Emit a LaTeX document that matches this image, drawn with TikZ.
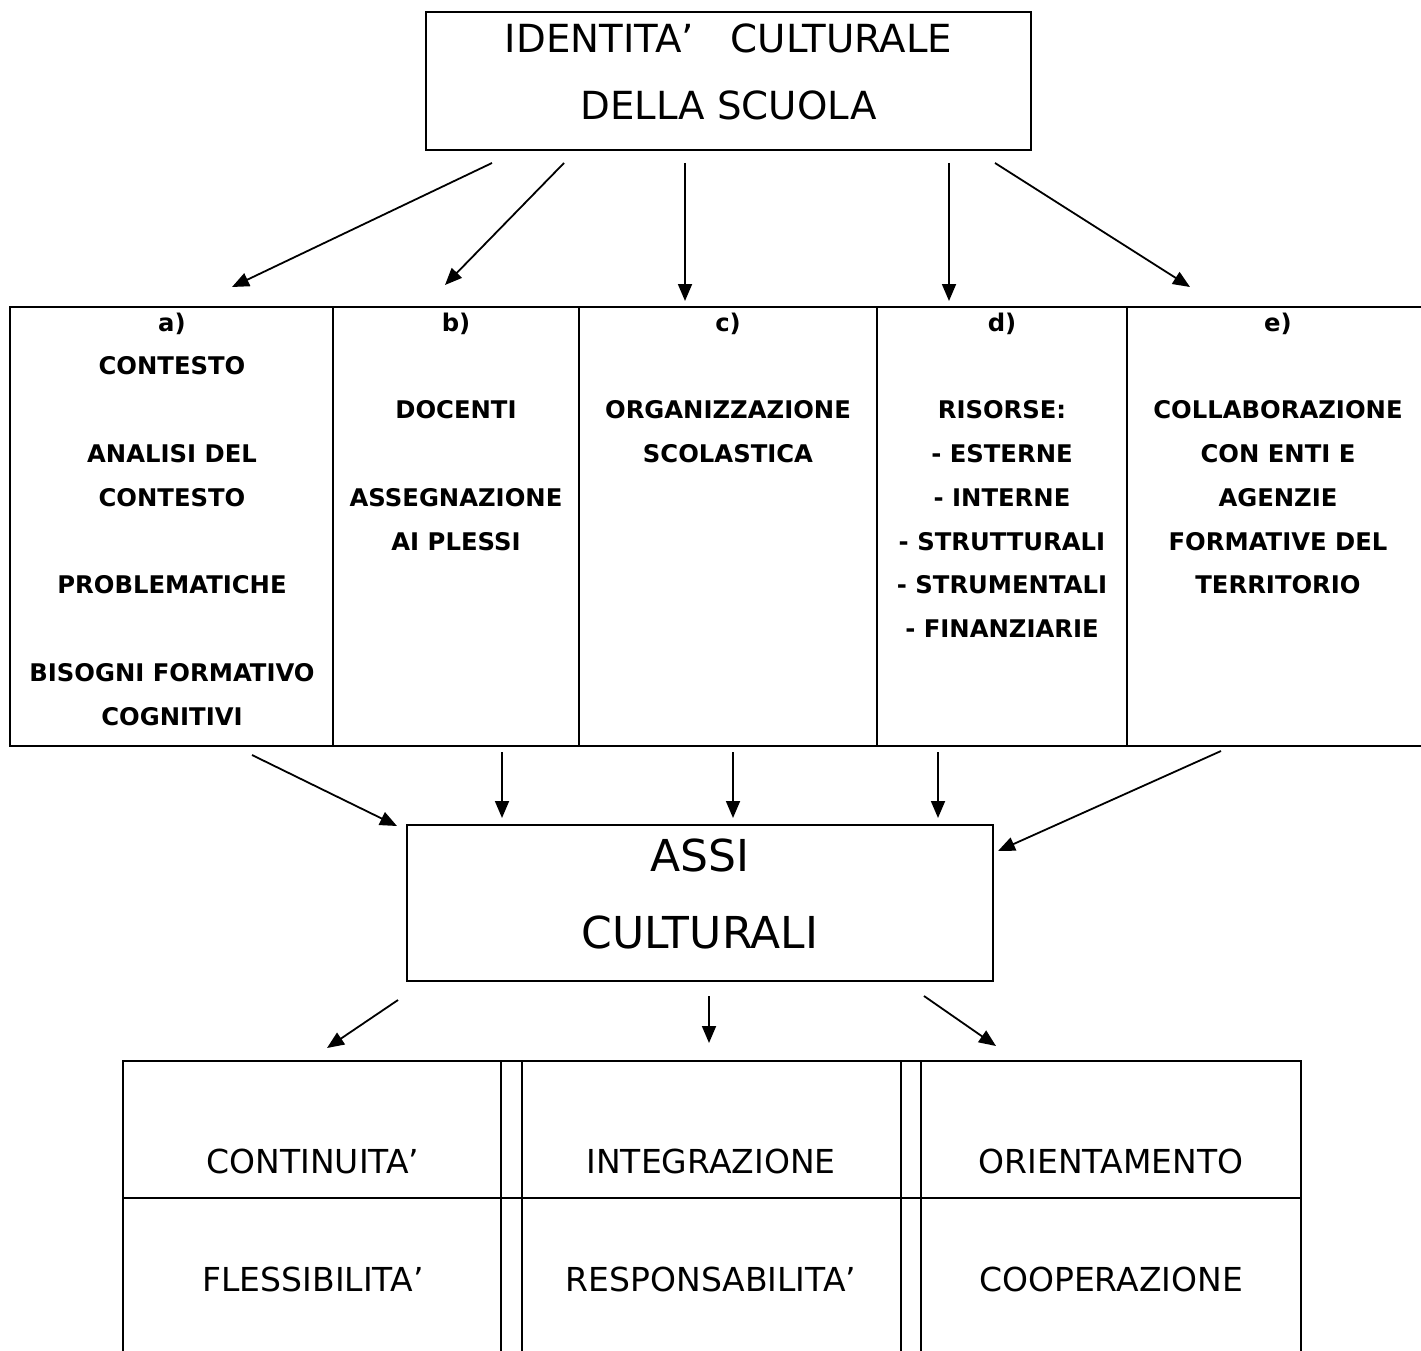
\documentclass[tikz,border=0pt]{standalone}
\usepackage{fontspec}
\setmainfont{DejaVu Sans}
\usetikzlibrary{arrows.meta}
\begin{document}
\begin{tikzpicture}[x=1pt,y=-1pt,
  box/.style={draw,line width=2.2pt,inner sep=0pt},
  cell/.style={draw,line width=2.2pt,inner sep=0pt},
  arr/.style={line width=1.8pt,-{Triangle[length=17pt,width=14pt]}},
  bigtxt/.style={inner sep=0pt,align=center,font=\fontsize{38.7}{67}\selectfont},
  assitxt/.style={inner sep=0pt,align=center,font=\fontsize{44}{77}\selectfont},
  coltxt/.style={inner sep=0pt,anchor=north,align=center,font=\fontsize{24.3}{43.8}\selectfont\bfseries},
  lowtxt/.style={inner sep=0pt,anchor=base,font=\fontsize{33}{40}\selectfont}]
\useasboundingbox[fill=white] (0,0) rectangle (1421,1351);
% top box
\node[box,minimum width=605pt,minimum height=138pt] (top) at (728.5,81) {};
\node[bigtxt,anchor=north] (toptxt) at (728.5,24) {IDENTITA’\ \ \ CULTURALE\\DELLA SCUOLA};
% middle table
\node[cell,minimum width=323pt,minimum height=439pt] (ca) at (171.5,526.5) {};
\node[cell,minimum width=246pt,minimum height=439pt] (cb) at (456,526.5) {};
\node[cell,minimum width=298pt,minimum height=439pt] (cc) at (728,526.5) {};
\node[cell,minimum width=250pt,minimum height=439pt] (cd) at (1002,526.5) {};
\node[cell,minimum width=313pt,minimum height=439pt] (ce) at (1283.5,526.5) {};
\node[coltxt] (ta) at (172,312.5) {a)\\CONTESTO\\[43.8pt]ANALISI DEL\\CONTESTO\\[43.8pt]PROBLEMATICHE\\[43.8pt]BISOGNI FORMATIVO\\COGNITIVI};
\node[coltxt] (tb) at (456,312.5) {b)\\[43.8pt]DOCENTI\\[43.8pt]ASSEGNAZIONE\\AI PLESSI};
\node[coltxt] (tc) at (728,312.5) {c)\\[43.8pt]ORGANIZZAZIONE\\SCOLASTICA};
\node[coltxt] (td) at (1002,312.5) {d)\\[43.8pt]RISORSE:\\- ESTERNE\\- INTERNE\\- STRUTTURALI\\- STRUMENTALI\\- FINANZIARIE};
\node[coltxt] (te) at (1278,312.5) {e)\\[43.8pt]COLLABORAZIONE\\CON ENTI E\\AGENZIE\\FORMATIVE DEL\\TERRITORIO};
% assi box
\node[box,minimum width=586pt,minimum height=156pt] (assi) at (700,903) {};
\node[assitxt,anchor=north] (assitxt) at (700,839) {ASSI\\CULTURALI};
% bottom table
\node[cell,minimum width=378pt,minimum height=137pt] (r1c1) at (312,1129.5) {};
\node[cell,minimum width=21pt,minimum height=137pt] (r1g1) at (511.5,1129.5) {};
\node[cell,minimum width=379pt,minimum height=137pt] (r1c2) at (711.5,1129.5) {};
\node[cell,minimum width=20pt,minimum height=137pt] (r1g2) at (911,1129.5) {};
\node[cell,minimum width=380pt,minimum height=137pt] (r1c3) at (1111,1129.5) {};
\node[cell,minimum width=378pt,minimum height=170pt] (r2c1) at (312,1283) {};
\node[cell,minimum width=21pt,minimum height=170pt] (r2g1) at (511.5,1283) {};
\node[cell,minimum width=379pt,minimum height=170pt] (r2c2) at (711.5,1283) {};
\node[cell,minimum width=20pt,minimum height=170pt] (r2g2) at (911,1283) {};
\node[cell,minimum width=380pt,minimum height=170pt] (r2c3) at (1111,1283) {};
\node[lowtxt] (l11) at (313,1173) {CONTINUITA’};
\node[lowtxt] (l12) at (711,1173) {INTEGRAZIONE};
\node[lowtxt] (l13) at (1111,1173) {ORIENTAMENTO};
\node[lowtxt] (l21) at (313,1291) {FLESSIBILITA’};
\node[lowtxt] (l22) at (711,1291) {RESPONSABILITA’};
\node[lowtxt] (l23) at (1111,1291) {COOPERAZIONE};
% arrow end points
\coordinate (s1) at (492,163); \coordinate (e1) at (232,287);
\coordinate (s2) at (564,163); \coordinate (e2) at (445,285);
\coordinate (s3) at (685,163); \coordinate (e3) at (685,301);
\coordinate (s4) at (949,163); \coordinate (e4) at (949,301);
\coordinate (s5) at (995,163); \coordinate (e5) at (1190,287);
\coordinate (m1) at (252,755); \coordinate (n1) at (397,826);
\coordinate (m2) at (502,752); \coordinate (n2) at (502,818);
\coordinate (m3) at (733,752); \coordinate (n3) at (733,818);
\coordinate (m4) at (938,752); \coordinate (n4) at (938,818);
\coordinate (m5) at (1221,751); \coordinate (n5) at (998,851);
\coordinate (b1s) at (398,1000); \coordinate (b1e) at (327,1048);
\coordinate (b2s) at (709,996); \coordinate (b2e) at (709,1043);
\coordinate (b3s) at (924,996); \coordinate (b3e) at (996,1046);
\foreach \a/\b in {s1/e1,s2/e2,s3/e3,s4/e4,s5/e5,m1/n1,m2/n2,m3/n3,m4/n4,m5/n5,b1s/b1e,b2s/b2e,b3s/b3e}
  \draw[arr] (\a) -- (\b);
\end{tikzpicture}
\end{document}
